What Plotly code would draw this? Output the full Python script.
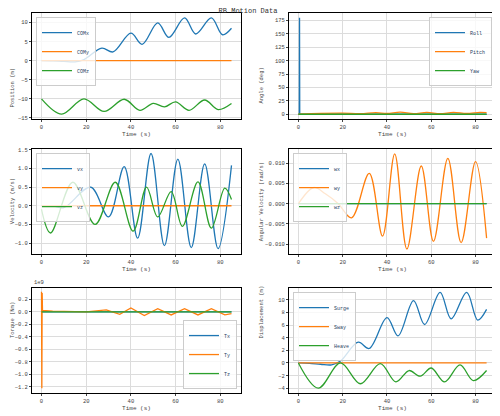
import plotly.graph_objects as go

t_pos = [0, 5, 10, 15, 19, 27, 32, 40, 45, 52, 57, 64, 69, 76, 81, 85]
comx = [0, -0.05, -0.2, -0.3, 0.3, 3.3, 2.3, 7.2, 4.3, 9.9, 6.1, 11.2, 7.0, 11.2, 6.8, 8.5]
t_z = [0, 9, 19, 28, 37, 44, 50, 55, 60, 66, 73, 79, 85]
comz = [-10, -14, -10, -13.3, -10.1, -13, -11.2, -12.1, -10.8, -13, -10.3, -12.8, -11.2]
heave = [v + 10 for v in comz]

t_ang = [0, 0.4, 0.5, 0.6, 85]
roll = [0, 0, 180, 0, 0]
t_pitch = [0, 10, 20, 28, 35, 40, 46, 52, 58, 64, 70, 76, 82, 85]
pitch = [0, 1.5, 2, 1, 3, 1.5, 4, 1, 3.5, 1, 3.5, 1.5, 3.5, 3]

t_vx = [0, 5, 10, 22, 30, 37, 43, 49, 55, 61, 67, 73, 79, 85]
vx = [0, 0, -0.05, 0.5, -0.3, 1.05, -0.87, 1.4, -1.07, 1.25, -1.12, 1.12, -1.15, 1.08]
t_vz = [0, 4, 14, 24, 33, 41, 47, 52, 58, 63, 70, 76, 82, 85]
vz = [-0.1, -0.73, 0.63, -0.5, 0.63, -0.68, 0.5, -0.3, 0.38, -0.55, 0.64, -0.6, 0.47, 0.17]

t_wy = [0, 7, 12, 18, 24, 32, 38, 43.5, 49, 55.5, 61, 67.5, 73.5, 80, 85]
wy = [0, 0.004, 0.0025, 0.0, -0.0035, 0.0075, -0.008, 0.0123, -0.0112, 0.0093, -0.0093, 0.0112, -0.0096, 0.0104, -0.0085]

t_tq = [0, 0.15, 0.3, 0.45, 5, 20, 29, 35, 40, 46, 52, 58, 64, 70, 76, 82, 85]
ty = [0.32, -1.22, 0.3, 0.02, 0.01, 0, 0.03, -0.04, 0.06, -0.06, 0.05, -0.05, 0.05, -0.05, 0.05, -0.05, -0.03]

C = ['#1f77b4', '#ff7f0e', '#2ca02c']
FONT = 'Liberation Mono'
fig = go.Figure()

def add(i, x, y, name, c, shape='spline'):
    xa = 'x' if i == 1 else f'x{i}'
    ya = 'y' if i == 1 else f'y{i}'
    fig.add_trace(go.Scatter(x=x, y=y, name=name, mode='lines', line=dict(color=c, width=1.3, shape=shape),
                             xaxis=xa, yaxis=ya, legend='legend' if i == 1 else f'legend{i}'))

add(1, t_pos, comx, 'COMx', C[0]); add(1, [0, 85], [0, 0], 'COMy', C[1]); add(1, t_z, comz, 'COMz', C[2])
add(2, t_ang, roll, 'Roll', C[0], 'linear'); add(2, t_pitch, pitch, 'Pitch', C[1]); add(2, [0, 85], [0, 0], 'Yaw', C[2])
add(3, t_vx, vx, 'vx', C[0]); add(3, [0, 85], [0, 0], 'vy', C[1]); add(3, t_vz, vz, 'vz', C[2])
add(4, [0, 85], [0, 0], 'wx', C[0]); add(4, t_wy, wy, 'wy', C[1]); add(4, [0, 85], [0, 0], 'wz', C[2])
add(5, [0, 85], [0, 0], 'Tx', C[0]); add(5, t_tq, ty, 'Ty', C[1], 'linear'); add(5, [0, 85], [0, 0], 'Tz', C[2])
add(6, t_pos, comx, 'Surge', C[0]); add(6, [0, 85], [0, 0], 'Sway', C[1]); add(6, t_z, heave, 'Heave', C[2])

xd = [[0.048, 0.466], [0.562, 0.976]]
yd = [[0.733, 0.988], [0.408, 0.661], [0.074, 0.327]]
ytx = [-0.002, 0.496]
ytitles = ['Position (m)', 'Angle (deg)', 'Velocity (m/s)', 'Angular Velocity (rad/s)', 'Torque (Nm)', 'Displacement (m)']
yranges = [[-15.3, 12.5], [-9, 189], [-1.3, 1.52], [-0.0125, 0.0135], [-1.3, 0.38], [-4.8, 11.9]]
ydt = [5, 25, 0.5, 0.005, 0.2, 2]
yfmt = ['', '', '.1f', '.3f', '.1f', '']
legpos = ['tl', 'tr', 'tl', 'tl', 'br', 'tl']
ax = dict(showline=True, mirror=True, linecolor='black', linewidth=1, gridcolor='#dcdcdc', automargin=False,
          zeroline=False, ticks='outside', ticklen=2, tickfont=dict(size=5.5, family=FONT, color='#444'))
lay = {}
ann = [dict(text='1e9', x=xd[0][0], y=yd[2][1], xref='paper', yref='paper', xanchor='left',
            yanchor='bottom', showarrow=False, font=dict(size=5.5, family=FONT, color='#444'))]
for k in range(6):
    i = k + 1
    r, c = k // 2, k % 2
    s = '' if i == 1 else str(i)
    lay['xaxis' + s] = dict(ax, domain=xd[c], range=[-4.25, 89.25], dtick=20, anchor='y' + s,
                           title=dict(text='Time (s)', font=dict(size=6, family=FONT, color='#444'), standoff=0))
    lay['yaxis' + s] = dict(ax, domain=yd[r], range=yranges[k], dtick=ydt[k], tickformat=yfmt[k], anchor='x' + s)
    ann.append(dict(text=ytitles[k], x=ytx[c], y=(yd[r][0] + yd[r][1]) / 2, xref='paper', yref='paper',
                    xanchor='left', textangle=-90, showarrow=False, font=dict(size=5.5, family=FONT, color='#444')))
    p = legpos[k]
    lx = xd[c][0] + 0.008 if p[1] == 'l' else xd[c][1] - 0.008
    ly = yd[r][1] - 0.01 if p[0] == 't' else yd[r][0] + 0.01
    lay['legend' + s] = dict(x=lx, y=ly, xanchor='left' if p[1] == 'l' else 'right',
                            yanchor='top' if p[0] == 't' else 'bottom', bgcolor='rgba(255,255,255,0.8)',
                            bordercolor='#ccc', borderwidth=1, font=dict(size=5, family=FONT), itemwidth=30,
                            tracegroupgap=0)
fig.update_layout(**lay)
fig.update_layout(width=500, height=416, margin=dict(l=0, r=0, t=0, b=0), plot_bgcolor='white', paper_bgcolor='white',
                  font=dict(family=FONT), annotations=ann,
                  title=dict(text='RB Motion Data', x=0.48, y=1.0, yanchor='top', font=dict(size=7, family=FONT, color='#333')))
fig.write_html('out.html')
